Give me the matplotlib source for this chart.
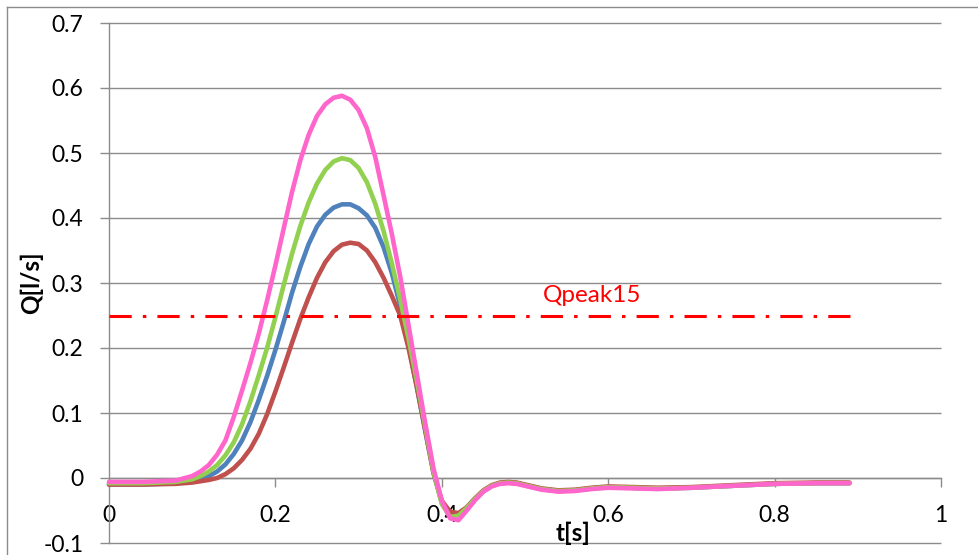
import matplotlib
matplotlib.use("Agg")
import matplotlib.pyplot as plt
from matplotlib.lines import Line2D

plt.rcParams['font.family'] = ['Lato', 'DejaVu Sans']
plt.rcParams['lines.scale_dashes'] = False

# ---- data ---------------------------------------------------------------
t = [0.00, 0.04, 0.08, 0.10, 0.11, 0.12, 0.13, 0.14, 0.15, 0.16, 0.17, 0.18,
     0.19, 0.20, 0.21, 0.22, 0.23, 0.24, 0.25, 0.26, 0.27, 0.28, 0.29, 0.30,
     0.31, 0.32, 0.33, 0.34, 0.35, 0.36, 0.37, 0.38, 0.39, 0.40, 0.41, 0.42,
     0.43, 0.44, 0.45, 0.46, 0.47, 0.48, 0.49, 0.50, 0.52, 0.54, 0.56, 0.58,
     0.60, 0.63, 0.66, 0.70, 0.75, 0.80, 0.85, 0.89]

q_blue = [-0.010, -0.010, -0.008, -0.005, -0.002, 0.003, 0.010, 0.021, 0.037,
          0.058, 0.086, 0.120, 0.157, 0.197, 0.240, 0.285, 0.325, 0.360, 0.387,
          0.405, 0.416, 0.421, 0.421, 0.415, 0.404, 0.385, 0.355, 0.315, 0.265,
          0.205, 0.140, 0.073, 0.008, -0.038, -0.055, -0.056, -0.046, -0.032,
          -0.020, -0.012, -0.008, -0.007, -0.008, -0.011, -0.017, -0.020,
          -0.019, -0.016, -0.014, -0.015, -0.016, -0.015, -0.012, -0.009,
          -0.008, -0.008]

q_red = [-0.010, -0.010, -0.009, -0.007, -0.005, -0.003, 0.000, 0.006, 0.015,
         0.028, 0.045, 0.068, 0.098, 0.133, 0.170, 0.208, 0.245, 0.278, 0.308,
         0.332, 0.349, 0.359, 0.362, 0.360, 0.350, 0.332, 0.308, 0.280, 0.250,
         0.200, 0.140, 0.075, 0.008, -0.035, -0.052, -0.054, -0.045, -0.031,
         -0.019, -0.011, -0.007, -0.006, -0.007, -0.010, -0.016, -0.019,
         -0.018, -0.015, -0.013, -0.014, -0.015, -0.014, -0.011, -0.008,
         -0.007, -0.007]

q_green = [-0.008, -0.008, -0.006, -0.002, 0.003, 0.010, 0.020, 0.035, 0.055,
           0.083, 0.118, 0.158, 0.200, 0.247, 0.297, 0.345, 0.388, 0.424,
           0.453, 0.474, 0.487, 0.492, 0.489, 0.477, 0.455, 0.422, 0.380,
           0.330, 0.275, 0.215, 0.150, 0.080, 0.010, -0.040, -0.060, -0.058,
           -0.046, -0.032, -0.020, -0.012, -0.008, -0.007, -0.008, -0.011,
           -0.017, -0.020, -0.019, -0.016, -0.014, -0.015, -0.016, -0.015,
           -0.012, -0.009, -0.008, -0.008]

q_pink = [-0.006, -0.006, -0.004, 0.003, 0.010, 0.020, 0.036, 0.058, 0.094,
          0.135, 0.177, 0.222, 0.273, 0.327, 0.384, 0.440, 0.489, 0.528,
          0.557, 0.575, 0.585, 0.588, 0.582, 0.566, 0.538, 0.494, 0.435,
          0.375, 0.310, 0.235, 0.160, 0.085, 0.015, -0.035, -0.062, -0.065,
          -0.050, -0.034, -0.021, -0.013, -0.009, -0.008, -0.009, -0.012,
          -0.018, -0.021, -0.020, -0.017, -0.015, -0.016, -0.017, -0.015,
          -0.012, -0.009, -0.008, -0.008]

qpeak_t = [0.0, 0.9]
qpeak_value = 0.25
qpeak_label = "Qpeak15"

x_ticks = [0, 0.2, 0.4, 0.6, 0.8, 1.0]
x_tick_labels = ["0", "0.2", "0.4", "0.6", "0.8", "1"]
y_ticks = [-0.1, 0.0, 0.1, 0.2, 0.3, 0.4, 0.5, 0.6, 0.7]
y_tick_labels = ["-0.1", "0", "0.1", "0.2", "0.3", "0.4", "0.5", "0.6", "0.7"]

# ---- styling ------------------------------------------------------------
GRID = "#8c8c8c"
series = [
    (q_blue, "#4F81BD"),
    (q_red, "#C0504D"),
    (q_green, "#92D050"),
    (q_pink, "#FF66CC"),
]

W, H = 979, 555
fig = plt.figure(figsize=(W / 100, H / 100), dpi=100)
fig.patch.set_facecolor("white")

# outer chart frame (top and left edges)
fig.add_artist(Line2D([7 / W, 1.0], [1 - 7 / H, 1 - 7 / H], color=GRID, lw=1.0))
fig.add_artist(Line2D([7 / W, 7 / W], [0.0, 1 - 7 / H], color=GRID, lw=1.0))

left, right, top, bottom = 109 / W, 941 / W, 1 - 23 / H, 1 - 543 / H
ax = fig.add_axes([left, bottom, right - left, top - bottom])
ax.set_xlim(x_ticks[0], x_ticks[-1])
ax.set_ylim(y_ticks[0], y_ticks[-1])
ax.set_facecolor("white")

# horizontal gridlines
ax.hlines(y_ticks, x_ticks[0], x_ticks[-1], colors=GRID, lw=1.0,
          clip_on=False, zorder=1)

for s in ("top", "right"):
    ax.spines[s].set_visible(False)
ax.spines["left"].set_color(GRID)
ax.spines["left"].set_linewidth(1.0)
ax.spines["bottom"].set_position(("data", 0))
ax.spines["bottom"].set_color(GRID)
ax.spines["bottom"].set_linewidth(1.0)

ax.set_xticks(x_ticks)
ax.set_xticklabels(x_tick_labels)
ax.set_yticks(y_ticks)
ax.set_yticklabels(y_tick_labels)
ax.tick_params(axis="y", direction="out", length=6.5, width=1.0, color=GRID,
               pad=12, labelsize=16.5, labelcolor="black")
ax.tick_params(axis="x", direction="out", length=6.5, width=1.0, color=GRID,
               pad=13, labelsize=16.5, labelcolor="black")

for q, c in series:
    ax.plot(t, q, color=c, lw=3.3, solid_capstyle="round",
            solid_joinstyle="round", zorder=3, clip_on=False)

ax.plot(qpeak_t, [qpeak_value] * len(qpeak_t), color="#FF0000", lw=2.2,
        linestyle=(0, (16, 8, 2.5, 8)), dash_capstyle="butt", zorder=4)
ax.text(0.5216, 0.2708, qpeak_label, color="#FF0000", fontsize=17.5,
        va="baseline", ha="left", zorder=5)

fig.text(31 / W, 1 - 283 / H, "Q[l/s]", rotation=90, fontsize=17.5,
         fontweight="bold", ha="center", va="center")
fig.text(573 / W, 1 - 533 / H, "t[s]", fontsize=17.5, fontweight="bold",
         ha="center", va="center")

fig.savefig("out.png", dpi=100, facecolor="white")
